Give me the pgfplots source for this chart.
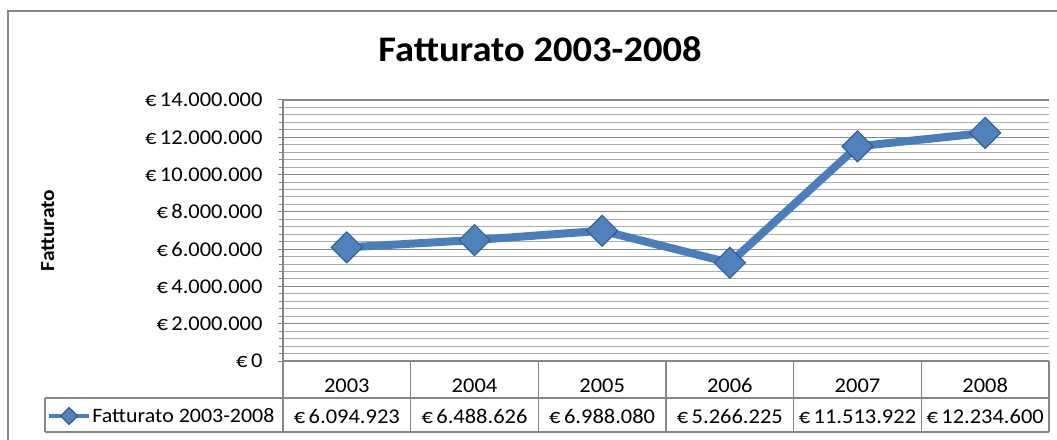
\documentclass[border=0pt]{standalone}
\usepackage{pgfplots}
\pgfplotsset{compat=1.18}
\usepackage{fontspec}
\setmainfont{Carlito}[FakeStretch=1.07]
\definecolor{serie}{HTML}{4A7EBB}
\definecolor{mfill}{HTML}{4F81BD}
\definecolor{mdraw}{HTML}{2C5A92}
\definecolor{gridmaj}{HTML}{868686}
\definecolor{gridmin}{HTML}{ABABAB}
\begin{document}
\begin{tikzpicture}[x=1pt,y=1pt]
\fill[white] (0,0) rectangle (1057,439);
\useasboundingbox (0,0) rectangle (1057,439);
% chart frame
\draw[gridmaj, line width=2pt] (8,-5) -- (8,428) -- (1062,428);
% title
\node[font=\fontsize{36}{40}\selectfont\bfseries] at (540,390) {Fatturato 2003-2008};
\begin{axis}[
  at={(283pt,78pt)}, anchor=south west,
  scale only axis, width=766pt, height=261pt,
  xmin=-0.5, xmax=5.5, ymin=0, ymax=14000000,
  xtick=data, xticklabels={2003,2004,2005,2006,2007,2008},
  xticklabel style={anchor=base, yshift=-26pt, font=\fontsize{21}{25}\selectfont},
  ytick={0,2000000,4000000,6000000,8000000,10000000,12000000,14000000},
  yticklabels={€\,0,€\,2.000.000,€\,4.000.000,€\,6.000.000,€\,8.000.000,€\,10.000.000,€\,12.000.000,€\,14.000.000},
  yticklabel style={font=\fontsize{21}{25}\selectfont, xshift=-12pt},
  scaled y ticks=false,
  minor y tick num=4,
  ymajorgrids, yminorgrids,
  major grid style={gridmaj, line width=1.2pt},
  minor grid style={gridmin, line width=1pt},
  tick align=outside,
  major tick length=5pt, minor tick length=4pt,
  ytick style={gridmaj, line width=1pt},
  xtick style={draw=none},
  axis line style={gridmaj, line width=1.3pt},
  axis x line*=bottom, axis y line*=left,
  ylabel={Fatturato},
  ylabel style={at={(axis description cs:-0.307,0.5)}, anchor=center, font=\fontsize{20}{24}\selectfont\bfseries},
  clip=false,
  legend style={at={(axis description cs:-0.3078,-0.2107)}, anchor=west, draw=none, fill=none,
    font=\fontsize{20.5}{24}\selectfont, inner sep=0pt, row sep=0pt,
    nodes={inner xsep=1.5pt}},
  legend cell align=left,
  legend image code/.code={%
    \draw[line width=3.5pt, mark size=6pt, mark repeat=2, mark phase=2]
      plot coordinates {(0pt,0pt) (20pt,0pt) (40pt,0pt)};},
]
\addplot[serie, line width=8pt, mark=square*, mark size=11pt,
  mark options={rotate=45, fill=mfill, draw=mdraw, line width=1pt}]
  coordinates {(0,6094923) (1,6488626) (2,6988080) (3,5266225) (4,11513922) (5,12234600)};
\addlegendentry{Fatturato 2003-2008}
% data table values
\node[font=\fontsize{21}{25}\selectfont, anchor=base, yshift=-62pt] at (axis cs:0,0) {€\,6.094.923};
\node[font=\fontsize{21}{25}\selectfont, anchor=base, yshift=-62pt] at (axis cs:1,0) {€\,6.488.626};
\node[font=\fontsize{21}{25}\selectfont, anchor=base, yshift=-62pt] at (axis cs:2,0) {€\,6.988.080};
\node[font=\fontsize{21}{25}\selectfont, anchor=base, yshift=-62pt] at (axis cs:3,0) {€\,5.266.225};
\node[font=\fontsize{21}{25}\selectfont, anchor=base, yshift=-62pt] at (axis cs:4,0) {€\,11.513.922};
\node[font=\fontsize{21}{25}\selectfont, anchor=base, yshift=-62pt] at (axis cs:5,0) {€\,12.234.600};
\end{axis}
% table lines
\begin{scope}[gridmaj, line width=1.3pt]
\draw (45,41) -- (1049,41);
\draw (45,7) -- (1049,7);
\draw (45,41) -- (45,7);
\foreach \xx in {283,410.7,538.3,666,793.7,921.3,1049}{
  \draw (\xx,78) -- (\xx,7);
}
\end{scope}
\end{tikzpicture}
\end{document}
